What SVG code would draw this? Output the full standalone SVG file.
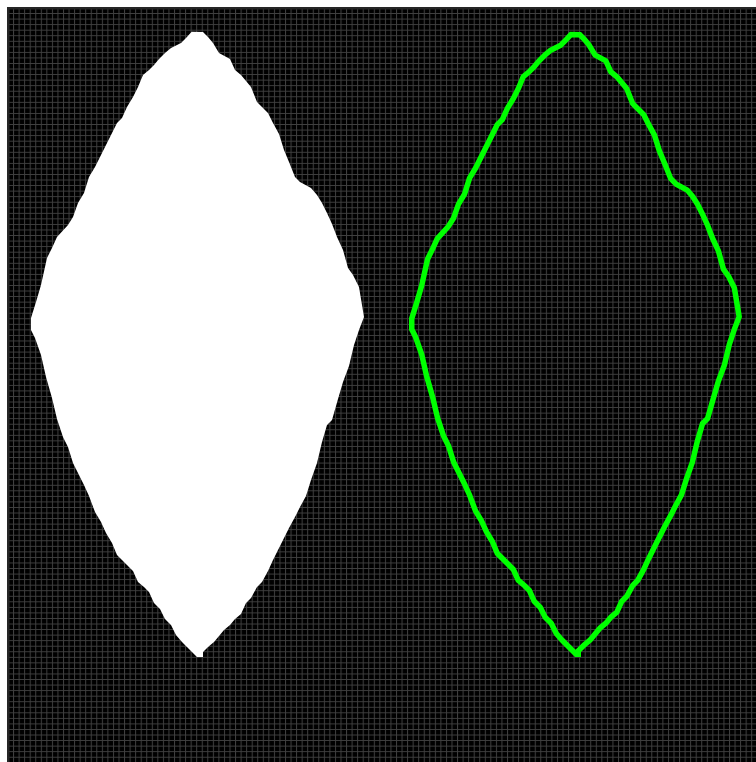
<svg xmlns="http://www.w3.org/2000/svg" width="756" height="762" viewBox="0 0 756 762">
  <defs>
    <pattern id="grid" x="7.5" y="7.5" width="5.55" height="5.55" patternUnits="userSpaceOnUse">
      <rect width="5.55" height="5.55" fill="#000"/>
      <path d="M0 0.5 H5.55 M0.5 0 V5.55" stroke="#404040" stroke-width="1" fill="none"/>
    </pattern>
    <polygon id="leaf" points="191.7,31.7 203,32 208,37 213,43 219,53 230,59 235,70 241,75 246,81 251,87 257,102 262,107 268,113 273,123 279,134 284,150 289,162 295,177 300,182 311,188 317,195 322,203 327,213 332,224 337,237 343,250 348,268 353,275 359,287 364,317 359,330 354,345 349,366 343,382 338,399 332,420 327,425 322,442 317,463 311,480 306,496 300,507 295,517 289,528 284,538 278,550 273,560 268,571 262,582 257,587 251,598 246,603 241,614 235,619 230,625 224,630 219,636 214,642 208,647 203,652 203,657 197,657 192,652 187,647 182,642 176,635 171,625 165,619 160,609 154,603 149,592 144,587 138,582 133,571 127,565 122,560 117,555 112,543 106,533 101,522 95,512 89,496 84,485 79,475 73,463 68,447 63,437 57,419 52,398 46,377 41,355 35,338 31,330 31,318 36,302 41,285 47,258 52,248 57,237 68,225 73,217 78,203 84,193 89,177 95,167 100,157 106,145 111,135 117,123 122,118 127,107 133,97 138,87 143,75 149,70 154,65 159,59 165,53 171,48 181,43 186,38"/>
    <clipPath id="leafClip" clipPathUnits="userSpaceOnUse">
      <use href="#leaf" transform="translate(378,0)"/>
    </clipPath>
  </defs>
  <rect width="756" height="762" fill="#fff"/>
  <rect x="7" y="7" width="749" height="755" fill="#262626"/>
  <rect x="9.5" y="9.5" width="746.5" height="752.5" fill="url(#grid)"/>
  <g id="filled-shape">
    <use href="#leaf" fill="#fff"/>
  </g>
  <g id="outline-shape" clip-path="url(#leafClip)">
    <use href="#leaf" transform="translate(378,0)" fill="none" stroke="#00ff00" stroke-width="11" stroke-linejoin="miter"/>
  </g>
</svg>
